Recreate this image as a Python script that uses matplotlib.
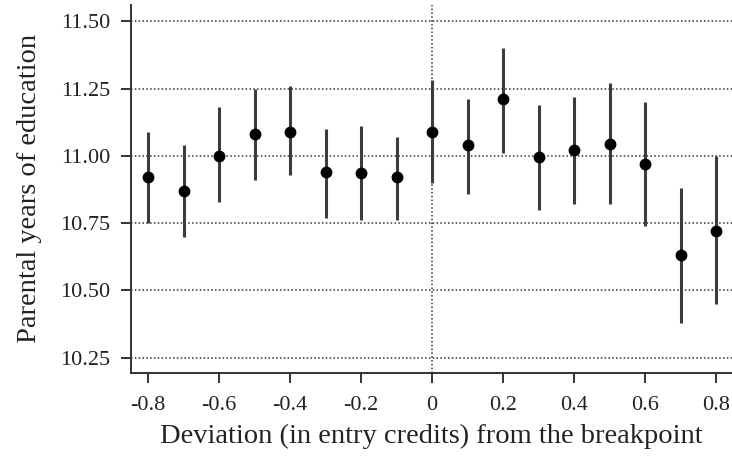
import matplotlib.pyplot as plt
import numpy as np

# binned deviation from the breakpoint
deviation = [-0.8, -0.7, -0.6, -0.5, -0.4, -0.3, -0.2, -0.1, 0.0,
             0.1, 0.2, 0.3, 0.4, 0.5, 0.6, 0.7, 0.8]
mean_educ = [10.92, 10.87, 11.00, 11.08, 11.09, 10.94, 10.935, 10.92, 11.09,
             11.04, 11.21, 10.995, 11.02, 11.045, 10.97, 10.63, 10.72]
ci_low = [10.75, 10.70, 10.83, 10.91, 10.93, 10.77, 10.76, 10.76, 10.90,
          10.86, 11.01, 10.80, 10.82, 10.82, 10.74, 10.38, 10.45]
ci_high = [11.09, 11.04, 11.18, 11.25, 11.26, 11.10, 11.11, 11.07, 11.28,
           11.21, 11.40, 11.19, 11.22, 11.27, 11.20, 10.88, 11.00]

x_ticks = [-0.8, -0.6, -0.4, -0.2, 0, 0.2, 0.4, 0.6, 0.8]
x_ticklabels = ['-0.8', '-0.6', '-0.4', '-0.2', '0', '0.2', '0.4', '0.6', '0.8']
y_ticks = [10.25, 10.50, 10.75, 11.00, 11.25, 11.50]

plt.rcParams['font.family'] = ['Liberation Serif', 'DejaVu Serif']

fig = plt.figure(figsize=(7.32, 4.58), dpi=100)
ax = fig.add_axes([0.179, 0.186, 0.821, 0.803])

for y in y_ticks:
    ax.axhline(y, color='#333333', linestyle=(0, (1, 1.5)), linewidth=1.1, zorder=1)
ax.axvline(0, color='#333333', linestyle=(0, (1, 1.5)), linewidth=1.1, zorder=1)

ax.vlines(deviation, ci_low, ci_high, color='#3c3c3c', linewidth=2.2, zorder=2)
ax.plot(deviation, mean_educ, 'o', color='black', markersize=7.5, zorder=3)

ax.set_xlim(-0.848, 0.845)
ax.set_ylim(10.194, 11.56)
ax.set_xticks(x_ticks)
ax.set_xticklabels(x_ticklabels)
ax.set_yticks(y_ticks)
ax.set_yticklabels([f'{v:.2f}' for v in y_ticks])

for side in ['top', 'right']:
    ax.spines[side].set_visible(False)
for side in ['left', 'bottom']:
    ax.spines[side].set_linewidth(1.4)
    ax.spines[side].set_color('#333333')

ax.tick_params(axis='both', colors='#333333', labelcolor='#222222',
               labelsize=16, length=7, width=1.4)
ax.tick_params(axis='x', pad=10)
ax.tick_params(axis='y', pad=8)

ax.set_xlabel('Deviation (in entry credits) from the breakpoint', fontsize=20.5,
              color='#222222', labelpad=6)
ax.set_ylabel('Parental years of education', fontsize=20.5, color='#222222',
              labelpad=13)

fig.savefig('out.png', dpi=100)
